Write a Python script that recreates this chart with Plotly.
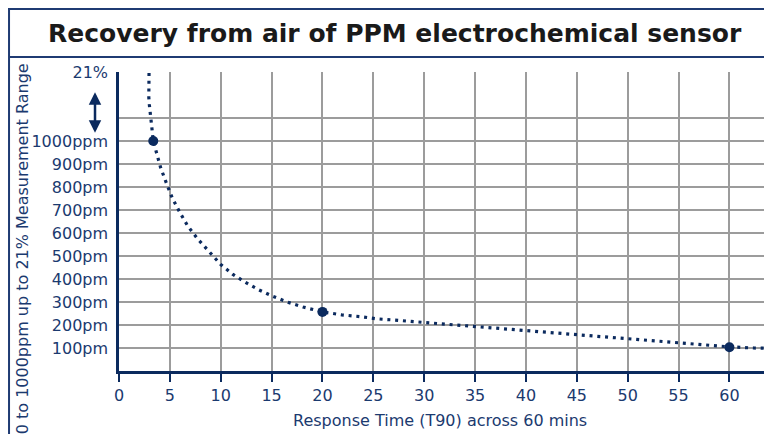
import plotly.graph_objects as go

# Curve (minutes, ppm-scale units; 1300 == 21%)
curve_x = [2.96, 2.93, 2.93, 2.98, 3.05, 3.15, 3.24, 3.37, 3.70, 4.10, 4.65, 5.24, 5.96,
           6.75, 7.70, 8.6, 10, 11.2, 12.3, 13.7, 15.1, 16.6, 18.1, 20, 21.9, 23.8, 25.3,
           26.9, 30, 35, 40, 45, 47.7, 50.1, 52.4, 54.8, 57.1, 60, 62.4, 63.4]
curve_y = [1330, 1260, 1190, 1159, 1122, 1086, 1054, 1000, 950, 883, 818, 752, 691,
           631, 576, 530, 463, 420, 389, 354, 325, 299, 278, 257, 244, 236, 227,
           222, 211, 193, 175, 157, 147, 139, 131, 124, 117, 105, 100, 99]

# Highlighted points
point_x = [3.37, 20, 60]
point_y = [1000, 257, 103]

# Axis ticks
x_ticks = list(range(0, 61, 5))
y_tickvals = [100, 200, 300, 400, 500, 600, 700, 800, 900, 1000, 1100, 1300]
y_ticktext = ["100pm", "200pm", "300pm", "400pm", "500pm", "600pm", "700pm",
              "800pm", "900pm", "1000ppm", "", "21%"]

NAVY = "#0b2a5e"
TXT = "#1b3a6f"
GRID = "#9c9c9c"
FONT = "DejaVu Sans"

fig = go.Figure()
fig.add_trace(go.Scatter(
    x=curve_x, y=curve_y, mode="lines",
    line=dict(color=NAVY, width=3.2, dash="3px,4.8px"),
    cliponaxis=False, hoverinfo="skip", showlegend=False))
fig.add_trace(go.Scatter(
    x=point_x, y=point_y, mode="markers",
    marker=dict(color=NAVY, size=10),
    cliponaxis=False, showlegend=False))

fig.update_layout(
    width=764, height=426,
    margin=dict(l=111, r=8, t=64, b=63, autoexpand=False),
    paper_bgcolor="white", plot_bgcolor="white",
    font=dict(family=FONT, color=TXT, size=16),
    showlegend=False,
    xaxis=dict(
        range=[0, 63.4], tickvals=x_ticks, ticktext=[str(v) for v in x_ticks],
        showgrid=True, gridcolor=GRID, gridwidth=1.5,
        showline=True, linecolor=NAVY, linewidth=2.5,
        ticks="outside", ticklen=8, tickwidth=2, tickcolor=NAVY,
        zeroline=False, automargin=False,
        tickfont=dict(size=16, color=TXT, family=FONT),
    ),
    yaxis=dict(
        range=[0, 1300], tickvals=y_tickvals, ticktext=y_ticktext,
        showgrid=True, gridcolor=GRID, gridwidth=1.5,
        showline=True, linecolor=NAVY, linewidth=2.5,
        ticks="outside", ticklen=5, tickcolor="rgba(0,0,0,0)",
        zeroline=False, automargin=False,
        tickfont=dict(size=16, color=TXT, family=FONT),
    ),
)

# Frame and title separator
fig.add_shape(type="rect", xref="paper", yref="paper",
              x0=-0.1705, x1=1.2, y0=-0.5, y1=1.2107,
              line=dict(color="#1f3b73", width=2), fillcolor="rgba(0,0,0,0)", layer="above")
fig.add_shape(type="line", xref="paper", yref="paper",
              x0=-0.1705, x1=1.2, y0=1.050, y1=1.050,
              line=dict(color="#1f3b73", width=2))

# Title
fig.add_annotation(text="<b>Recovery from air of PPM electrochemical sensor</b>",
                   xref="paper", yref="paper", x=0.428, y=1.130,
                   showarrow=False, xanchor="center", yanchor="middle",
                   font=dict(family=FONT, size=25, color="#1a1a1a"))
# Axis titles
fig.add_annotation(text="0 to 1000ppm up to 21% Measurement Range",
                   xref="paper", yref="paper", x=-0.150, y=0.408, textangle=-90,
                   showarrow=False, xanchor="center", yanchor="middle",
                   font=dict(family=FONT, size=16, color=TXT))
fig.add_annotation(text="Response Time (T90) across 60 mins",
                   xref="paper", yref="paper", x=0.498, y=-0.167,
                   showarrow=False, xanchor="center", yanchor="middle",
                   font=dict(family=FONT, size=16, color=TXT))
# Double arrow between 1000ppm and 21%
fig.add_annotation(text="", xref="paper", yref="y", x=-0.0372, y=1036,
                   ax=0, ay=-42, axref="pixel", ayref="pixel",
                   showarrow=True, arrowside="end+start", arrowhead=2,
                   arrowsize=1, arrowwidth=2.5, arrowcolor=NAVY)

fig.write_html("out.html")
